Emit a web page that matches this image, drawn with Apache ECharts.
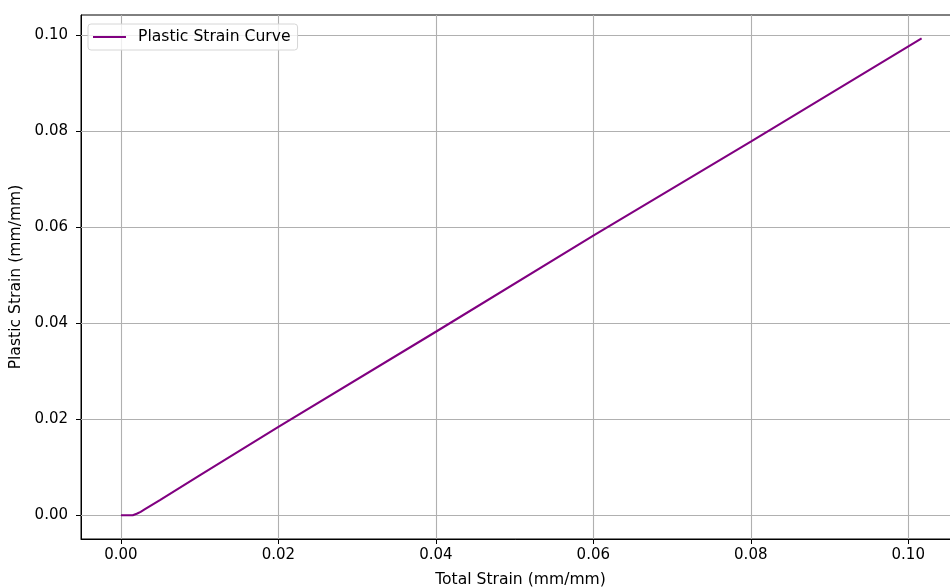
<!DOCTYPE html>
<html>
<head>
<meta charset="utf-8">
<script src="https://cdn.jsdelivr.net/npm/echarts@6/dist/echarts.min.js"></script>
<style>
  html, body { margin: 0; padding: 0; background: #fff; overflow: hidden; }
  #chart { width: 950px; height: 588px; }
</style>
</head>
<body>
<div id="chart"></div>
<script>
// Total strain (mm/mm) and the matching plastic strain (mm/mm)
const totalStrain   = [0, 0.0005, 0.001, 0.0015, 0.002, 0.0025, 0.003, 0.005, 0.01, 0.02, 0.04, 0.06, 0.08, 0.1017];
const plasticStrain = [0, 0, 0, 0, 0.0003, 0.0007, 0.0012, 0.0032, 0.0083, 0.0184, 0.0382, 0.0582, 0.0778, 0.0993];

const xTicks = [0, 0.02, 0.04, 0.06, 0.08, 0.10];
const yTicks = [0, 0.02, 0.04, 0.06, 0.08, 0.10];

const seriesName = 'Plastic Strain Curve';
const xTitle = 'Total Strain (mm/mm)';
const yTitle = 'Plastic Strain (mm/mm)';

const points = totalStrain.map((x, i) => [x, plasticStrain[i]]);

const font = 'DejaVu Sans';
const tickSize = 15;
const titleSize = 15.6;
const chart = echarts.init(document.getElementById('chart'));

function gridLines(values, dim) {
  return values.map(v => (dim === 'x' ? { xAxis: v } : { yAxis: v }));
}

chart.setOption({
  animation: false,
  grid: {
    left: 81, top: 15, width: 879, height: 524,
    outerBoundsMode: 'none', containLabel: false,
    show: true, borderColor: '#000', borderWidth: 1, backgroundColor: 'transparent'
  },
  xAxis: {
    type: 'value', min: -0.005075, max: 0.106575,
    name: xTitle, nameLocation: 'middle', nameGap: 33,
    nameTextStyle: { fontFamily: font, fontSize: titleSize, color: '#000' },
    axisLine: { show: true, onZero: false, lineStyle: { color: '#000', width: 1 } },
    axisTick: { show: true, inside: false, length: 5, customValues: xTicks, lineStyle: { color: '#000', width: 1 } },
    axisLabel: { customValues: xTicks, margin: 9, fontFamily: font, fontSize: tickSize, color: '#000',
                 formatter: v => v.toFixed(2) },
    splitLine: { show: false }
  },
  yAxis: {
    type: 'value', min: -0.00496, max: 0.10416,
    name: yTitle, nameLocation: 'middle', nameGap: 56,
    nameTextStyle: { fontFamily: font, fontSize: titleSize, color: '#000' },
    axisLine: { show: true, onZero: false, lineStyle: { color: '#000', width: 1 } },
    axisTick: { show: true, inside: false, length: 5, customValues: yTicks, lineStyle: { color: '#000', width: 1 } },
    axisLabel: { customValues: yTicks, margin: 13, fontFamily: font, fontSize: tickSize, color: '#000',
                 formatter: v => v.toFixed(2) },
    splitLine: { show: false }
  },
  legend: {
    left: 88, top: 24,
    data: [{ name: seriesName, icon: 'rect' }],
    itemWidth: 33, itemHeight: 2, itemGap: 10,
    padding: [5, 7, 5, 5],
    borderColor: '#d6d6d6', borderWidth: 1, borderRadius: 3,
    backgroundColor: 'rgba(255,255,255,0.8)',
    textStyle: { fontFamily: font, fontSize: titleSize, color: '#000', padding: [0, 0, 0, 7] }
  },
  series: [
    {
      name: seriesName, type: 'line', data: points,
      showSymbol: false, symbol: 'none',
      lineStyle: { color: '#800080', width: 2.1 },
      itemStyle: { color: '#800080' },
      z: 3,
      markLine: {
        silent: true, symbol: 'none', label: { show: false },
        lineStyle: { color: '#b0b0b0', width: 1.1, type: 'solid' },
        z: 1,
        data: gridLines(xTicks, 'x').concat(gridLines(yTicks, 'y'))
      }
    }
  ]
});
</script>
</body>
</html>
